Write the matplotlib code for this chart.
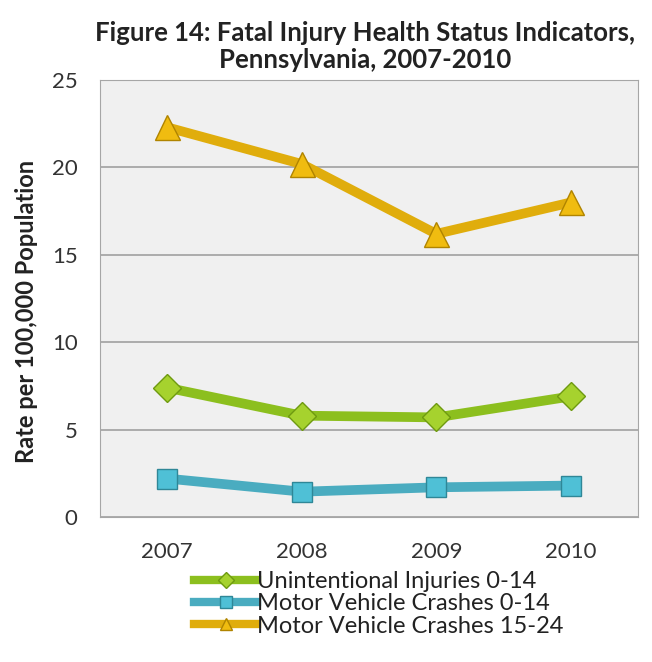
import matplotlib.pyplot as plt
from matplotlib.lines import Line2D

years = ['2007', '2008', '2009', '2010']
unintentional_0_14 = [7.4, 5.8, 5.7, 6.9]
mvc_0_14 = [2.2, 1.45, 1.7, 1.8]
mvc_15_24 = [22.3, 20.2, 16.2, 18.0]
series_names = ['Unintentional Injuries 0-14', 'Motor Vehicle Crashes 0-14',
                'Motor Vehicle Crashes 15-24']

plt.rcParams['font.family'] = ['Lato', 'DejaVu Sans']

fig = plt.figure(figsize=(6.52, 6.62), dpi=100)
ax = fig.add_axes([0.153, 0.219, 0.826, 0.660])
ax.set_facecolor('#f0f0f0')

x = range(len(years))
styles = [
    (unintentional_0_14, '#8cbf1e', '#a6d22e', '#6e9a10', 'D', 14),
    (mvc_0_14, '#4aacc0', '#4fc0d6', '#2f8797', 's', 15),
    (mvc_15_24, '#e0ad0c', '#f0bc10', '#b08400', '^', 18),
]
handles = []
for (vals, lc, mfc, mec, mk, ms), name in zip(styles, series_names):
    ax.plot(x, vals, color=lc, lw=7, solid_capstyle='round', zorder=3)
    ax.plot(x, vals, ls='none', marker=mk, ms=ms, mfc=mfc, mec=mec,
            mew=1, zorder=4)
    handles.append(Line2D([], [], color=lc, lw=6, marker=mk, ms=8,
                          mfc=mfc, mec=mec, label=name))

ax.set_xlim(-0.5, 3.5)
ax.set_ylim(0, 25)
ax.set_yticks([0, 5, 10, 15, 20, 25])
ax.set_xticks(list(x))
ax.set_xticklabels(years)
ax.yaxis.grid(True, color='#a0a0a0', lw=1.2)
ax.set_axisbelow(True)
for s in ax.spines.values():
    s.set_color('#a6a6a6')
ax.tick_params(length=0, labelsize=16, colors='#333333')
ax.tick_params(axis='y', pad=16)
ax.tick_params(axis='x', pad=18)

ax.set_ylabel('Rate per 100,000 Population', fontsize=17, color='#222222',
              fontweight='bold')
ax.yaxis.set_label_coords(-0.115, 0.47)
fig.suptitle('Figure 14: Fatal Injury Health Status Indicators,\nPennsylvania, 2007-2010',
             fontsize=18.5, fontweight='bold', color='#222222', y=0.968,
             x=0.56, linespacing=1.15)

fig.legend(handles=handles, loc='upper left', bbox_to_anchor=(0.297, 0.137),
           frameon=False, fontsize=17, handlelength=2.7, handletextpad=0.0,
           labelspacing=0.05, labelcolor='#222222', borderaxespad=0,
           borderpad=0)

fig.savefig('out.png', dpi=100)
